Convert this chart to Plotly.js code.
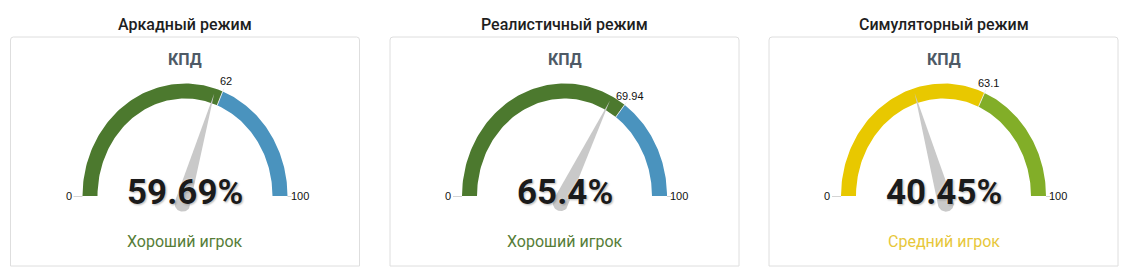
<!DOCTYPE html>
<html>
<head>
<meta charset="utf-8">
<script src="https://cdn.plot.ly/plotly-3.0.1.min.js"></script>
<style>
html,body{margin:0;padding:0;background:#fff;}
#chart{width:1125px;height:267px;}
</style>
</head>
<body>
<div id="chart"></div>
<script>
// ---- data ----
const modes = ['Аркадный режим', 'Реалистичный режим', 'Симуляторный режим'];
const metricTitle = 'КПД';
const values = [59.69, 65.4, 40.45];
const thresholds = [62, 69.94, 63.1];
const thresholdLabels = ['62', '69.94', '63.1'];
const gaugeMin = 0;
const gaugeMax = 100;
const minLabel = '0';
const maxLabel = '100';
const ratings = ['Хороший игрок', 'Хороший игрок', 'Средний игрок'];
const lowColors = ['#4c792e', '#4c792e', '#e8c800'];
const highColors = ['#4a93be', '#4a93be', '#82ae28'];
const ratingColors = ['#567d38', '#567d38', '#e7c73a'];

// ---- layout geometry (styling, not data) ----
const W = 1125, H = 267;
const centersX = [185, 564.5, 943.5];
const cy = 196;
const rxo = 102.5, ryo = 112.5, thick = 15;
const cardHalf = 174.5, cardTop = 37, cardBottom = 266;

function ang(v) { return Math.PI * (1 - (v - gaugeMin) / (gaugeMax - gaugeMin)); }
function pt(cx, v, dr) {
  const a = ang(v);
  return [cx + (rxo - dr) * Math.cos(a), cy - (ryo - dr) * Math.sin(a)];
}
function bandTrace(cx, v0, v1, color) {
  const xs = [], ys = [], n = 80;
  for (let i = 0; i <= n; i++) { const v = v0 + (v1 - v0) * i / n; const p = pt(cx, v, 0); xs.push(p[0]); ys.push(p[1]); }
  for (let i = n; i >= 0; i--) { const v = v0 + (v1 - v0) * i / n; const p = pt(cx, v, thick); xs.push(p[0]); ys.push(p[1]); }
  xs.push(xs[0]); ys.push(ys[0]);
  return { type: 'scatter', mode: 'lines', x: xs, y: ys, fill: 'toself', fillcolor: color,
           line: { width: 0, color: color }, hoverinfo: 'skip', showlegend: false };
}
function needleTrace(cx, v) {
  const a = ang(v);
  const ux = Math.cos(a), uy = -Math.sin(a);      // pixel direction toward tip
  const px = Math.sin(a), py = Math.cos(a);       // perpendicular
  const dlb = 8, dw = 8;
  const tip = pt(cx, v, 5);
  const zx = cx - dlb * ux, zy = cy - dlb * uy;
  const xs = [tip[0]], ys = [tip[1]];
  const n = 30;
  for (let i = 0; i <= n; i++) {
    const t = Math.PI * i / n;
    xs.push(zx + dw * (Math.cos(t) * px - Math.sin(t) * ux));
    ys.push(zy + dw * (Math.cos(t) * py - Math.sin(t) * uy));
  }
  xs.push(tip[0]); ys.push(tip[1]);
  return { type: 'scatter', mode: 'lines', x: xs, y: ys, fill: 'toself', fillcolor: '#c9c9c9',
           line: { width: 0, color: '#c9c9c9' }, hoverinfo: 'skip', showlegend: false };
}
function lineTrace(p0, p1, color) {
  return { type: 'scatter', mode: 'lines', x: [p0[0], p1[0]], y: [p0[1], p1[1]],
           line: { width: 1, color: color }, hoverinfo: 'skip', showlegend: false };
}

const traces = [];
const annotations = [];
const shapes = [];

for (let i = 0; i < modes.length; i++) {
  const cx = centersX[i];
  // card
  const l = cx - cardHalf, r = cx + cardHalf, t = cardTop, b = cardBottom, k = 3;
  shapes.push({ type: 'path', xref: 'x', yref: 'y',
    path: `M${l + k},${t} L${r - k},${t} Q${r},${t} ${r},${t + k} L${r},${b} L${l},${b} L${l},${t + k} Q${l},${t} ${l + k},${t} Z`,
    line: { color: '#dedede', width: 1 }, fillcolor: 'rgba(0,0,0,0)', layer: 'below' });

  traces.push(bandTrace(cx, gaugeMin, thresholds[i], lowColors[i]));
  traces.push(bandTrace(cx, thresholds[i], gaugeMax, highColors[i]));
  // separator / label lines
  traces.push(lineTrace(pt(cx, thresholds[i], thick), pt(cx, thresholds[i], -3), 'rgba(235,235,235,0.9)'));
  traces.push(lineTrace([cx - rxo, cy + 0.5], [cx - rxo - 9, cy + 0.5], '#d4d4d4'));
  traces.push(lineTrace([cx + rxo, cy + 0.5], [cx + rxo + 4, cy + 0.5], '#d4d4d4'));
  traces.push(needleTrace(cx, values[i]));

  annotations.push({ x: cx, y: 24, xref: 'x', yref: 'y', text: modes[i], showarrow: false,
    font: { family: 'Roboto, Arial, sans-serif', size: 16, color: '#1e1e1e', weight: 500 } });
  annotations.push({ x: cx, y: 59, xref: 'x', yref: 'y', text: '<b>' + metricTitle + '</b>', showarrow: false,
    font: { family: 'Roboto, Arial, sans-serif', size: 16, color: '#4e5a66' } });
  const lp = pt(cx, thresholds[i], -10);
  annotations.push({ x: lp[0], y: lp[1] - 1, xref: 'x', yref: 'y', text: thresholdLabels[i], showarrow: false,
    font: { family: 'Liberation Sans, Arial, sans-serif', size: 11, color: '#111' } });
  annotations.push({ x: cx - rxo - 14, y: cy, xref: 'x', yref: 'y', text: minLabel, showarrow: false,
    font: { family: 'Liberation Sans, Arial, sans-serif', size: 11, color: '#111' } });
  annotations.push({ x: cx + rxo + 12, y: cy, xref: 'x', yref: 'y', text: maxLabel, showarrow: false,
    font: { family: 'Liberation Sans, Arial, sans-serif', size: 11, color: '#111' } });
  annotations.push({ x: cx, y: 192, xref: 'x', yref: 'y', text: values[i] + '%', showarrow: false,
    font: { family: 'Roboto, Arial, sans-serif', size: 35, color: '#1b1b1b', weight: 700,
            shadow: '0px 0px 2px #ffffff, 1px 1px 2px rgba(0,0,0,0.35)' } });
  annotations.push({ x: cx, y: 241, xref: 'x', yref: 'y', text: ratings[i], showarrow: false,
    font: { family: 'Roboto, Arial, sans-serif', size: 16, color: ratingColors[i] } });
}

const layout = {
  width: W, height: H,
  margin: { l: 0, r: 0, t: 0, b: 0, pad: 0 },
  paper_bgcolor: '#ffffff', plot_bgcolor: '#ffffff',
  xaxis: { range: [0, W], visible: false, fixedrange: true },
  yaxis: { range: [H, 0], visible: false, fixedrange: true },
  showlegend: false,
  shapes: shapes,
  annotations: annotations
};

Plotly.newPlot('chart', traces, layout, { displayModeBar: false, staticPlot: true });
</script>
</body>
</html>
